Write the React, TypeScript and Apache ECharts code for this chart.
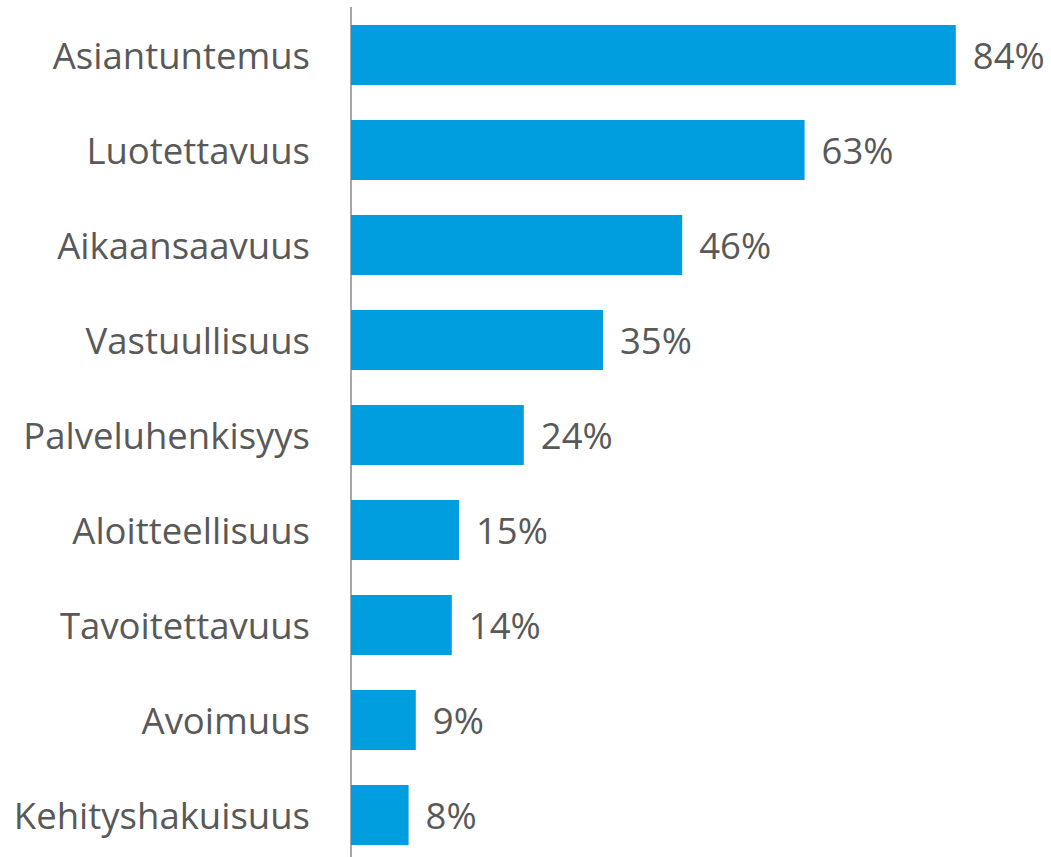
import React, { useEffect, useRef } from "react";
import * as echarts from "echarts";

const categories = [
  "Asiantuntemus",
  "Luotettavuus",
  "Aikaansaavuus",
  "Vastuullisuus",
  "Palveluhenkisyys",
  "Aloitteellisuus",
  "Tavoitettavuus",
  "Avoimuus",
  "Kehityshakuisuus",
];
const values = [84, 63, 46, 35, 24, 15, 14, 9, 8];

export default function App() {
  const ref = useRef<HTMLDivElement>(null);
  useEffect(() => {
    if (!ref.current) return;
    const chart = echarts.init(ref.current, null, { renderer: "svg" });
    chart.setOption({
      animation: false,
      grid: { left: 351, top: 7.5, width: 720, height: 855, containLabel: false },
      xAxis: {
        type: "value",
        min: 0,
        max: 100,
        show: false,
      },
      yAxis: {
        type: "category",
        data: categories,
        inverse: true,
        axisLine: { show: true, lineStyle: { color: "#888888", width: 1.5 } },
        axisTick: { show: false },
        axisLabel: {
          color: "#595959",
          fontSize: 36.5,
          fontFamily: "Open Sans",
          margin: 41,
        },
      },
      series: [
        {
          type: "bar",
          data: values,
          barWidth: 60,
          itemStyle: { color: "#009DDF" },
          label: {
            show: true,
            position: "right",
            distance: 17,
            formatter: "{c}%",
            color: "#595959",
            fontSize: 36.5,
            fontFamily: "Open Sans",
          },
        },
      ],
    });
    return () => chart.dispose();
  }, []);
  return (
    <div
      style={{
        position: "fixed",
        left: 0,
        top: 0,
        width: 1051,
        height: 857,
        overflow: "hidden",
        background: "#ffffff",
      }}
    >
      <div ref={ref} style={{ width: 1100, height: 900 }} />
    </div>
  );
}
